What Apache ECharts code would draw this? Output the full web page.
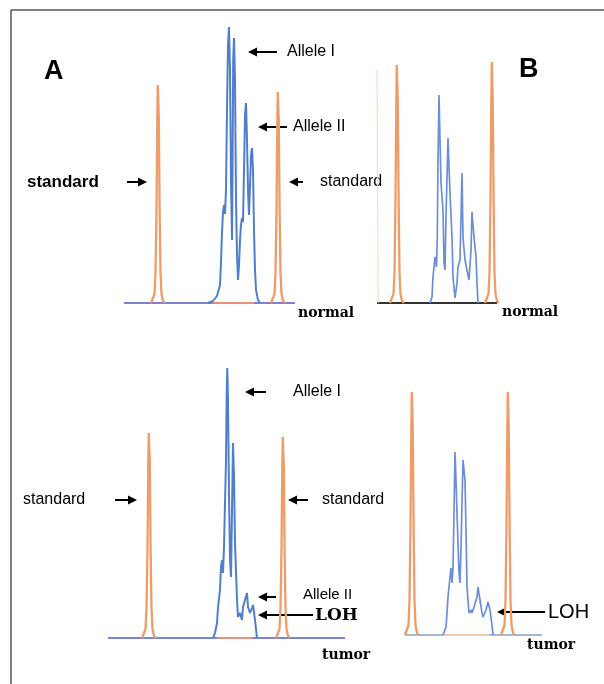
<!DOCTYPE html>
<html><head><meta charset="utf-8">
<script src="https://cdn.jsdelivr.net/npm/echarts@6/dist/echarts.min.js"></script>
<style>html,body{margin:0;padding:0;background:#fff}#c{width:604px;height:684px}</style>
</head><body><div id="c"></div>
<script>
// ---- data (x: scan position units, y: relative fluorescence units) ----
const normalA_baseline = [[0,0],[171,0]];
const normalA_stdLeft = [[27,0],[29,2],[30.5,9],[31.5,30],[32.5,95],[33.3,185],[33.8,218],[34.3,218],[34.8,185],[35.6,95],[36.5,30],[37.5,9],[39,2],[41,0]];
const normalA_stdBase = [[88,0],[130,0]];
const normalA_stdRight = [[147,0],[149,2],[150.5,9],[151.5,30],[152.5,92],[153.3,180],[153.8,211],[154.3,211],[154.8,180],[155.6,92],[156.5,30],[157.5,9],[159,2],[161,0]];
const normalA_trace = [[84,0],[89,2],[93,7],[96,18],[97,41],[98,71],[99,91],[100,98],[101,89],[102,113],[103,193],[104,258],[105,276],[106,233],[107,123],[108,63],[108.6,143],[109.2,243],[110,265],[111,223],[112,103],[113,48],[114,23],[115,38],[116,63],[117,78],[118,85],[119,81],[120,133],[121,188],[122,200],[123,163],[124,113],[125,88],[126,118],[127,148],[128,155],[129,133],[130,73],[131,33],[132,13],[134,3],[136,0]];

const normalB_baseline = [[0,0],[120,0]];
const normalB_edge = [[0,233],[0.6,233],[1.2,0]];
const normalB_stdLeft = [[13,0],[15,2],[16.5,9],[17.5,30],[18.5,105],[19.3,200],[19.8,238],[20.3,238],[20.8,200],[21.6,105],[22.5,30],[23.5,9],[25,2],[27,0]];
const normalB_stdRight = [[108,0],[110,2],[111.5,9],[112.5,30],[113.5,105],[114.3,200],[114.8,241],[115.3,241],[115.8,200],[116.6,105],[117.5,30],[118.5,9],[120,2],[122,0]];
const normalB_trace = [[53,0],[55,6],[56,26],[57,36],[58,46],[59.5,36],[60.3,66],[61,143],[62,208],[63,163],[64,120],[66,93],[67,40],[68,33],[69,86],[71,165],[72,136],[73,110],[75,66],[76,26],[78,5],[80,20],[81,36],[83,43],[85,130],[86,66],[88,43],[90,33],[92,23],[94,53],[95,91],[97,66],[99,46],[100,20],[101,0]];

const tumorA_baseline = [[0,0],[237,0]];
const tumorA_stdLeft = [[34,0],[36,2],[37.5,9],[38.5,30],[39.5,90],[40.3,175],[40.8,205],[41.3,205],[41.8,175],[42.6,90],[43.5,30],[44.5,9],[46,2],[48,0]];
const tumorA_stdBase = [[109,0],[145,0]];
const tumorA_stdRight = [[168,0],[170,2],[171.5,9],[172.5,30],[173.5,88],[174.3,170],[174.8,201],[175.3,201],[175.8,170],[176.6,88],[177.5,30],[178.5,9],[180,2],[182,0]];
const tumorA_trace = [[105,0],[107,5],[109,15],[110,31],[112,48],[113,71],[114,78],[115,65],[116,91],[118,178],[118.7,245],[119.3,270],[120,238],[121,145],[122,78],[123,61],[124,128],[125,195],[126,161],[127,95],[129,38],[130,21],[132,25],[134,18],[135,31],[137,38],[139,45],[140,31],[142,25],[144,30],[145,33],[147,18],[149,0]];

const tumorB_baseline = [[0,0],[137,0]];
const tumorB_stdLeft = [[0,0],[2,2],[3.5,10],[4.5,35],[5.5,110],[6.3,205],[6.8,243],[7.3,243],[7.8,205],[8.6,110],[9.5,35],[10.5,10],[12,2],[14,0]];
const tumorB_stdBase = [[38,0],[85,0]];
const tumorB_stdRight = [[96,0],[98,2],[99.5,10],[100.5,35],[101.5,110],[102.3,205],[102.8,243],[103.3,243],[103.8,205],[104.6,110],[105.5,35],[106.5,10],[108,2],[110,0]];
const tumorB_trace = [[38,0],[41,8],[42,22],[43,38],[45,58],[46,67],[47,52],[48,68],[49,122],[50,183],[51,155],[52,122],[54,62],[55,52],[56,88],[58,175],[59,177],[60,155],[61,105],[62,48],[64,22],[66,25],[67,22],[69,28],[72,38],[73,48],[75,35],[77,22],[78,18],[81,25],[83,33],[85,25],[87,10],[88,0]];

const panelLetters = ['A', 'B'];
const sampleNames = ['normal', 'tumor'];

// ---- layout ----
const grids = [
  {left:124, top:3,   width:171, height:300, xmax:171},
  {left:377, top:3,   width:120, height:300, xmax:120},
  {left:108, top:338, width:237, height:300, xmax:237},
  {left:405, top:335, width:137, height:300, xmax:137}
];
const ORANGE = '#EE9C68', BASEORANGE = '#E8907E', BLUE = '#4F7ECB', LBLUE = '#6B8FD6';

const chart = echarts.init(document.getElementById('c'), null, {renderer:'canvas'});

function lineSeries(i, data, color, w, z){
  return {type:'line', xAxisIndex:i, yAxisIndex:i, data:data, showSymbol:false, symbol:'none',
    clip:false, silent:true, z:z||2,
    lineStyle:{color:color, width:w}};
}

function arrow(tail, tip, y){
  const d = tip > tail ? 1 : -1;
  return {type:'group', silent:true, children:[
    {type:'line', shape:{x1:tail, y1:y, x2:tip - d*7, y2:y}, style:{stroke:'#000', lineWidth:2}},
    {type:'polygon', shape:{points:[[tip,y],[tip-d*9,y-4.5],[tip-d*9,y+4.5]]}, style:{fill:'#000'}}
  ]};
}
function txt(x, y, s, font, color){
  return {type:'text', x:x, y:y, silent:true, style:{text:s, font:font, fill:color||'#000', textVerticalAlign:'middle', verticalAlign:'middle'}};
}
const SANS = '"Liberation Sans", Arial, sans-serif';
const SERIF = '"DejaVu Serif", serif';

const option = {
  animation:false,
  backgroundColor:'#fff',
  grid: grids.map(g => ({left:g.left, top:g.top, width:g.width, height:g.height, containLabel:false})),
  xAxis: grids.map((g,i) => ({type:'value', gridIndex:i, min:0, max:g.xmax, show:false, splitLine:{show:false}})),
  yAxis: grids.map((g,i) => ({type:'value', gridIndex:i, min:0, max:300, show:false, splitLine:{show:false}})),
  series: [
    lineSeries(0, normalA_baseline, '#7B80D0', 2, 1),
    lineSeries(0, normalA_stdLeft, ORANGE, 2.3),
    lineSeries(0, normalA_stdBase, BASEORANGE, 2),
    lineSeries(0, normalA_stdRight, ORANGE, 2.3),
    lineSeries(0, normalA_trace, BLUE, 2, 3),
    lineSeries(1, normalB_baseline, '#333333', 2, 1),
    lineSeries(1, normalB_edge, '#F5D8B8', 1),
    lineSeries(1, normalB_stdLeft, ORANGE, 2.3),
    lineSeries(1, normalB_stdRight, ORANGE, 2.3),
    lineSeries(1, normalB_trace, LBLUE, 1.7, 3),
    lineSeries(2, tumorA_baseline, '#7A86D0', 2, 1),
    lineSeries(2, tumorA_stdLeft, ORANGE, 2.3),
    lineSeries(2, tumorA_stdBase, BASEORANGE, 2),
    lineSeries(2, tumorA_stdRight, ORANGE, 2.3),
    lineSeries(2, tumorA_trace, BLUE, 2, 3),
    lineSeries(3, tumorB_baseline, '#9DB8DD', 2, 1),
    lineSeries(3, tumorB_stdLeft, ORANGE, 2.3),
    lineSeries(3, tumorB_stdBase, '#EFC9A8', 2),
    lineSeries(3, tumorB_stdRight, ORANGE, 2.3),
    lineSeries(3, tumorB_trace, LBLUE, 1.7, 3)
  ],
  graphic: [
    {type:'line', shape:{x1:11, y1:10, x2:604, y2:10}, style:{stroke:'#555', lineWidth:1.5}},
    {type:'line', shape:{x1:11, y1:10, x2:11, y2:684}, style:{stroke:'#555', lineWidth:1.5}},
    txt(44, 72, panelLetters[0], 'bold 27px ' + SANS),
    txt(519, 70, panelLetters[1], 'bold 27px ' + SANS),
    // normal A
    arrow(277, 248, 52), txt(287, 52, 'Allele I', '16px ' + SANS),
    arrow(287, 258, 127), txt(293, 127, 'Allele II', '16px ' + SANS),
    arrow(127, 147, 182), txt(27, 182, 'standard', 'bold 17px ' + SANS),
    arrow(303, 289, 182), txt(320, 182, 'standard', '16px ' + SANS),
    txt(298, 313, sampleNames[0], 'bold 14px ' + SERIF),
    txt(502, 312, sampleNames[0], 'bold 14px ' + SERIF),
    // tumor A
    arrow(266, 245, 392), txt(293, 392, 'Allele I', '16px ' + SANS),
    arrow(115, 137, 500), txt(23, 500, 'standard', '16px ' + SANS),
    arrow(308, 288, 500), txt(322, 500, 'standard', '16px ' + SANS),
    arrow(276, 258, 597), txt(303, 595, 'Allele II', '15px ' + SANS),
    arrow(313, 258, 615), txt(315, 616, 'LOH', 'bold 17px ' + SERIF),
    txt(322, 655, sampleNames[1], 'bold 14px ' + SERIF),
    // tumor B
    arrow(545, 497, 612), txt(548, 612, 'LOH', '20px ' + SANS),
    txt(527, 645, sampleNames[1], 'bold 14px ' + SERIF)
  ]
};
chart.setOption(option);
</script>
</body></html>
